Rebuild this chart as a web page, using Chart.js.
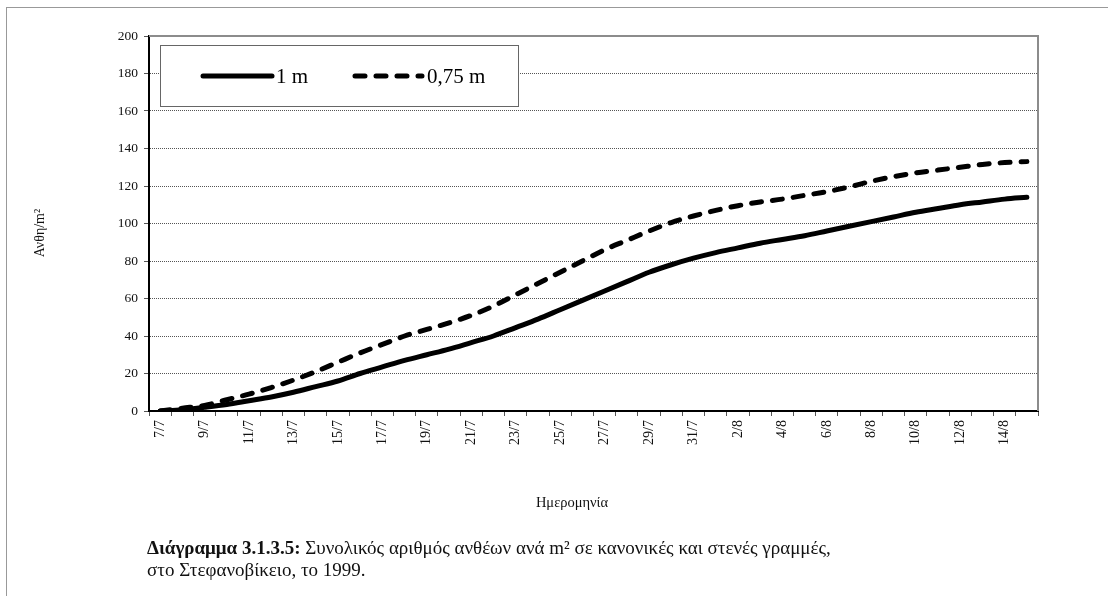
<!DOCTYPE html>
<html lang="el">
<head>
<meta charset="UTF-8">
<title>Διάγραμμα 3.1.3.5</title>
<script src="https://cdn.jsdelivr.net/npm/chart.js"></script>
<style>
  body { margin: 0; background: #fff; overflow: hidden; }
  #frame { position: absolute; left: 6px; top: 7px; width: 1110px; height: 700px;
           border-left: 1px solid #999; border-top: 1px solid #999; }
  #chart { position: absolute; left: 0; top: 0; }
  #caption { position: absolute; left: 147px; top: 537px; color: #111;
             font-family: "Liberation Serif", serif; font-size: 19px; line-height: 22px; }
</style>
</head>
<body>
<div id="frame"></div>
<canvas id="chart" width="1108" height="596"></canvas>
<div id="caption"><b>Διάγραμμα 3.1.3.5:</b> Συνολικός αριθμός ανθέων ανά m² σε κανονικές και στενές γραμμές,<br>στο Στεφανοβίκειο, το 1999.</div>

<script>
// daily dates 7/7 .. 15/8
const dates = ['7/7','8/7','9/7','10/7','11/7','12/7','13/7','14/7','15/7','16/7',
               '17/7','18/7','19/7','20/7','21/7','22/7','23/7','24/7','25/7','26/7',
               '27/7','28/7','29/7','30/7','31/7','1/8','2/8','3/8','4/8','5/8',
               '6/8','7/8','8/8','9/8','10/8','11/8','12/8','13/8','14/8','15/8'];

// only every other date is labelled on the axis
const shownDates = ['7/7','9/7','11/7','13/7','15/7','17/7','19/7','21/7','23/7','25/7',
                    '27/7','29/7','31/7','2/8','4/8','6/8','8/8','10/8','12/8','14/8'];

// flowers per m2, row spacing 1 m
const rows1m = [0, 0.7, 2, 3.5, 5.5, 7.5, 10, 13, 16, 20,
                23.5, 27, 30, 33, 36.5, 40, 44.5, 49, 54, 59,
                64, 69, 74, 78, 81.5, 84.5, 87, 89.5, 91.5, 93.5,
                96, 98.5, 101, 103.5, 106, 108, 110, 111.5, 113, 114];

// flowers per m2, row spacing 0,75 m
const rows075m = [0, 1.5, 3, 6, 9, 12.5, 16.5, 21, 26, 31,
                  35.5, 40, 43.5, 47, 51, 56, 62, 68, 74, 80,
                  86, 91, 96, 100.5, 104, 107, 109.5, 111.5, 113, 115,
                  117, 119.5, 122.5, 125, 127, 128.5, 130, 131.5, 132.5, 133];

const yTicks = [0, 20, 40, 60, 80, 100, 120, 140, 160, 180, 200];

const serif = '"Liberation Serif", serif';
const dash = [10, 11];

// plot frame, axis titles and the boxed legend
const extras = {
  id: 'extras',
  beforeDatasetsDraw(chart) {
    const { ctx, chartArea: a } = chart;
    ctx.save();
    ctx.strokeStyle = '#8c8c8c';
    ctx.lineWidth = 2;
    ctx.beginPath();
    ctx.moveTo(a.left, a.top);
    ctx.lineTo(a.right, a.top);
    ctx.lineTo(a.right, a.bottom);
    ctx.stroke();
    ctx.restore();
  },
  afterDraw(chart) {
    const { ctx, chartArea: a } = chart;
    ctx.save();
    ctx.fillStyle = '#111';

    // axis titles
    ctx.font = '14px ' + serif;
    ctx.textAlign = 'center';
    ctx.textBaseline = 'middle';
    ctx.save();
    ctx.translate(40, 233);
    ctx.rotate(-Math.PI / 2);
    ctx.fillText('Ανθη/m²', 0, 0);
    ctx.restore();
    ctx.font = '14.5px ' + serif;
    ctx.fillText('Ημερομηνία', 572, 503);

    // legend box
    const bx = a.left + 11.5, by = a.top + 9.5;
    ctx.fillStyle = '#fff';
    ctx.fillRect(bx, by, 358, 61);
    ctx.strokeStyle = '#666';
    ctx.lineWidth = 1;
    ctx.strokeRect(bx, by, 358, 61);

    const ly = by + 30.5;
    ctx.strokeStyle = '#000';
    ctx.lineWidth = 5;
    ctx.lineCap = 'round';
    ctx.beginPath();
    ctx.moveTo(203, ly); ctx.lineTo(272, ly);
    ctx.stroke();
    ctx.setLineDash(dash);
    ctx.beginPath();
    ctx.moveTo(355, ly); ctx.lineTo(422, ly);
    ctx.stroke();
    ctx.setLineDash([]);

    ctx.fillStyle = '#000';
    ctx.font = '21px ' + serif;
    ctx.textAlign = 'left';
    ctx.fillText(chart.data.datasets[0].label, 276, ly + 1);
    ctx.fillText(chart.data.datasets[1].label, 427, ly + 1);
    ctx.restore();
  }
};

new Chart(document.getElementById('chart'), {
  type: 'line',
  data: {
    labels: dates,
    datasets: [
      {
        label: '1 m',
        data: rows1m,
        borderColor: '#000',
        borderWidth: 5,
        borderCapStyle: 'round',
        pointRadius: 0,
        cubicInterpolationMode: 'monotone',
        fill: false
      },
      {
        label: '0,75 m',
        data: rows075m,
        borderColor: '#000',
        borderWidth: 5,
        borderDash: dash,
        borderCapStyle: 'round',
        pointRadius: 0,
        cubicInterpolationMode: 'monotone',
        fill: false
      }
    ]
  },
  options: {
    responsive: false,
    animation: false,
    layout: { padding: { left: 0, top: 36, right: 70, bottom: 125 } },
    plugins: { legend: { display: false }, tooltip: { enabled: false } },
    scales: {
      x: {
        offset: true,
        grid: { offset: true, drawOnChartArea: false, tickLength: 5, color: '#555' },
        border: { color: '#000', width: 2 },
        ticks: {
          autoSkip: false,
          minRotation: 90,
          maxRotation: 90,
          padding: 4,
          color: '#111',
          font: { family: serif, size: 14 },
          callback: (v, i) => shownDates.includes(dates[i]) ? dates[i] : ''
        },
        afterFit: s => { s.height = 60; }
      },
      y: {
        min: 0,
        max: 200,
        afterBuildTicks: s => { s.ticks = yTicks.map(v => ({ value: v })); },
        grid: { color: '#555', tickLength: 5 },
        border: { color: '#000', width: 2, dash: [1, 1] },
        ticks: { padding: 6, color: '#111', font: { family: serif, size: 13.5 } },
        afterFit: s => { s.width = 149; }
      }
    }
  },
  plugins: [extras]
});
</script>
</body>
</html>
